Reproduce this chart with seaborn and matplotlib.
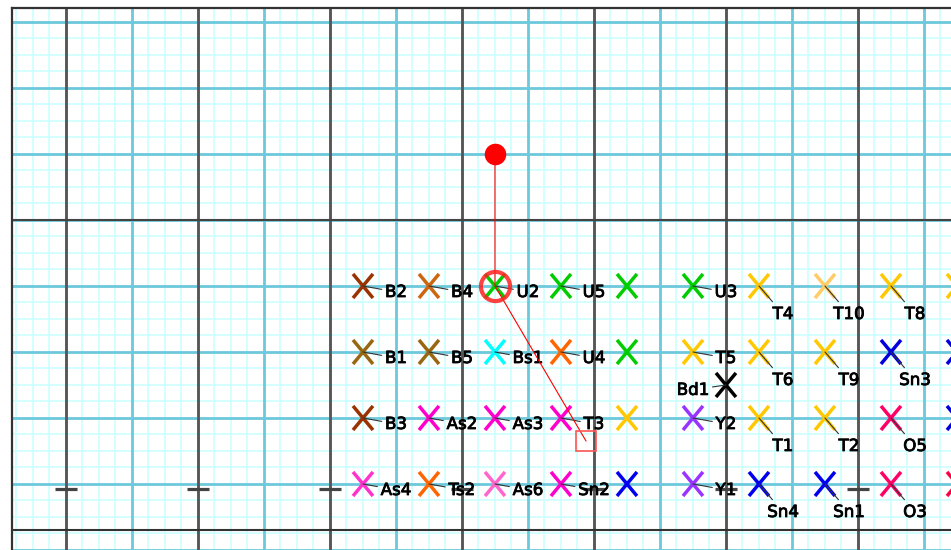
import numpy as np
import pandas as pd
import matplotlib
matplotlib.use("Agg")
import matplotlib.pyplot as plt
import matplotlib.patheffects as pe
import seaborn as sns
from matplotlib.path import Path

# columns / rows of the element grid (last column is cut off by the right edge)
col_x = [4.5, 5.5, 6.5, 7.5, 8.5, 9.5, 10.5, 11.5, 12.5, 13.5]
row_y = [-1, -2, -3, -4]

row1_labels = ["B2", "B4", "U2", "U5", "", "U3", "T4", "T10", "T8", ""]
row1_colors = ["#993300", "#cc6611", "#00cc00", "#00cc00", "#00cc00", "#00cc00",
               "#ffc800", "#ffcc66", "#ffc800", "#ffc800"]
row1_place = ["r", "r", "r", "r", "", "r", "d", "d", "d", ""]

row2_labels = ["B1", "B5", "Bs1", "U4", "", "T5", "T6", "T9", "Sn3", ""]
row2_colors = ["#996611", "#996611", "#00ffff", "#ff6600", "#00cc00", "#ffc800",
               "#ffc800", "#ffc800", "#0000dd", "#0000dd"]
row2_place = ["r", "r", "r", "r", "", "r", "d", "d", "d", ""]

row3_labels = ["B3", "As2", "As3", "T3", "", "Y2", "T1", "T2", "O5", ""]
row3_colors = ["#993300", "#ff00cc", "#ff00cc", "#ff00cc", "#ffc800", "#9933ff",
               "#ffc800", "#ffc800", "#ff0066", "#0000dd"]
row3_place = ["r", "r", "r", "r", "", "r", "d", "d", "d", ""]

row4_labels = ["As4", "Ts2", "As6", "Sn2", "", "Y1", "Sn4", "Sn1", "O3", ""]
row4_colors = ["#ff33cc", "#ff6600", "#ff66cc", "#ff00cc", "#0000ee", "#9933ff",
               "#0000ee", "#0000ee", "#ff0066", "#ff0044"]
row4_place = ["r", "r", "r", "r", "", "r", "d", "d", "d", ""]

# odd one out between the rows
extra_label, extra_x, extra_y, extra_color, extra_place = "Bd1", 10.0, -2.5, "#000000", "l"

# red selection: dot, ring, end square
path_x = [6.5, 6.5, 7.88]
path_y = [1.0, -1.0, -3.35]

# little dashes on the baseline
dash_x = [0, 2, 4, 6, 8, 10, 12]
dash_y = [-4.08] * 7

rows = [(row1_labels, row1_colors, row1_place),
        (row2_labels, row2_colors, row2_place),
        (row3_labels, row3_colors, row3_place),
        (row4_labels, row4_colors, row4_place)]
recs = []
for y, (labs, cols, places) in zip(row_y, rows):
    for x, lab, c, p in zip(col_x, labs, cols, places):
        recs.append(dict(x=x, y=y, label=lab, color=c, place=p))
recs.append(dict(x=extra_x, y=extra_y, label=extra_label, color=extra_color, place=extra_place))
df = pd.DataFrame(recs)

sns.set_style("white")
plt.rcParams["font.family"] = ["DejaVu Sans"]

fig = plt.figure(figsize=(9.51, 5.5), dpi=100)
ax = fig.add_axes([12 / 951, 1 - 560 / 550, 988 / 951, 552 / 550])

# graph paper: faint quarter lines, blue unit lines, dark every second column
ax.set_xticks(np.arange(-1, 15, 1))
ax.set_xticks(np.arange(-1, 15, 0.25), minor=True)
ax.set_yticks(np.arange(-6, 4, 1))
ax.set_yticks(np.arange(-6, 4, 0.25), minor=True)
ax.grid(which="minor", color="#ccffff", lw=1.2)
ax.set_axisbelow(True)
for gx in range(-1, 15):
    ax.axvline(gx, color="#6cc9dc", lw=2, zorder=0.8)
for gy in range(-6, 4):
    ax.axhline(gy, color="#6cc9dc", lw=2, zorder=0.8)
for gx in range(0, 15, 2):
    ax.axvline(gx, color="#555555", lw=2, zorder=1)
ax.axhline(0, color="#444444", lw=1.5, zorder=1)
ax.axhline(-4.70, color="#333333", lw=1.5, zorder=1)
ax.tick_params(which="both", length=0, labelbottom=False, labelleft=False)
for s in ["right", "bottom"]:
    ax.spines[s].set_visible(False)
for s in ["left", "top"]:
    ax.spines[s].set_color("#333333")
    ax.spines[s].set_linewidth(1.6)

ax.plot(dash_x, dash_y, ls="none", marker="_", ms=16, mew=2.3, color="#444444", zorder=2)

# tall X marker
xmark = Path([(-0.83, -1), (0.83, 1), (-0.83, 1), (0.83, -1)],
             [Path.MOVETO, Path.LINETO, Path.MOVETO, Path.LINETO])
sns.scatterplot(data=df, x="x", y="y", hue="color",
                palette={c: c for c in df["color"].unique()},
                marker=xmark, s=300, edgecolor="face", linewidth=2.5,
                legend=False, ax=ax, zorder=4)
ax.set_xlabel("")
ax.set_ylabel("")

offsets = {"r": (0.5, -0.167), "d": (0.364, -0.5), "l": (-0.5, -0.15)}
for _, r in df[df["label"] != ""].iterrows():
    dx, dy = offsets[r["place"]]
    ax.annotate(r["label"], xy=(r["x"], r["y"]), xytext=(r["x"] + dx, r["y"] + dy),
                ha="center", va="baseline", fontsize=12, color="black", zorder=5,
                path_effects=[pe.withStroke(linewidth=0.6, foreground="black")],
                arrowprops=dict(arrowstyle="-", color="#333333", lw=0.8,
                                shrinkA=0, shrinkB=0))

# red selection path
ax.plot(path_x, path_y, color="#ff0000", lw=0.8, zorder=6)
ax.plot(path_x[0], path_y[0], "o", ms=14.5, color="#ff0000", zorder=7)
ax.plot(path_x[1], path_y[1], "o", ms=21, mfc="none", mec="#ff2020", mew=3, alpha=0.85, zorder=7)
ax.plot(path_x[2], path_y[2], "s", ms=14.5, mfc="none", mec="#ff5555", mew=1.2, zorder=7)

ax.set_xlim(-0.818, 14.152)
ax.set_ylim(-5.152, 3.212)

fig.savefig("out.png", dpi=100)
